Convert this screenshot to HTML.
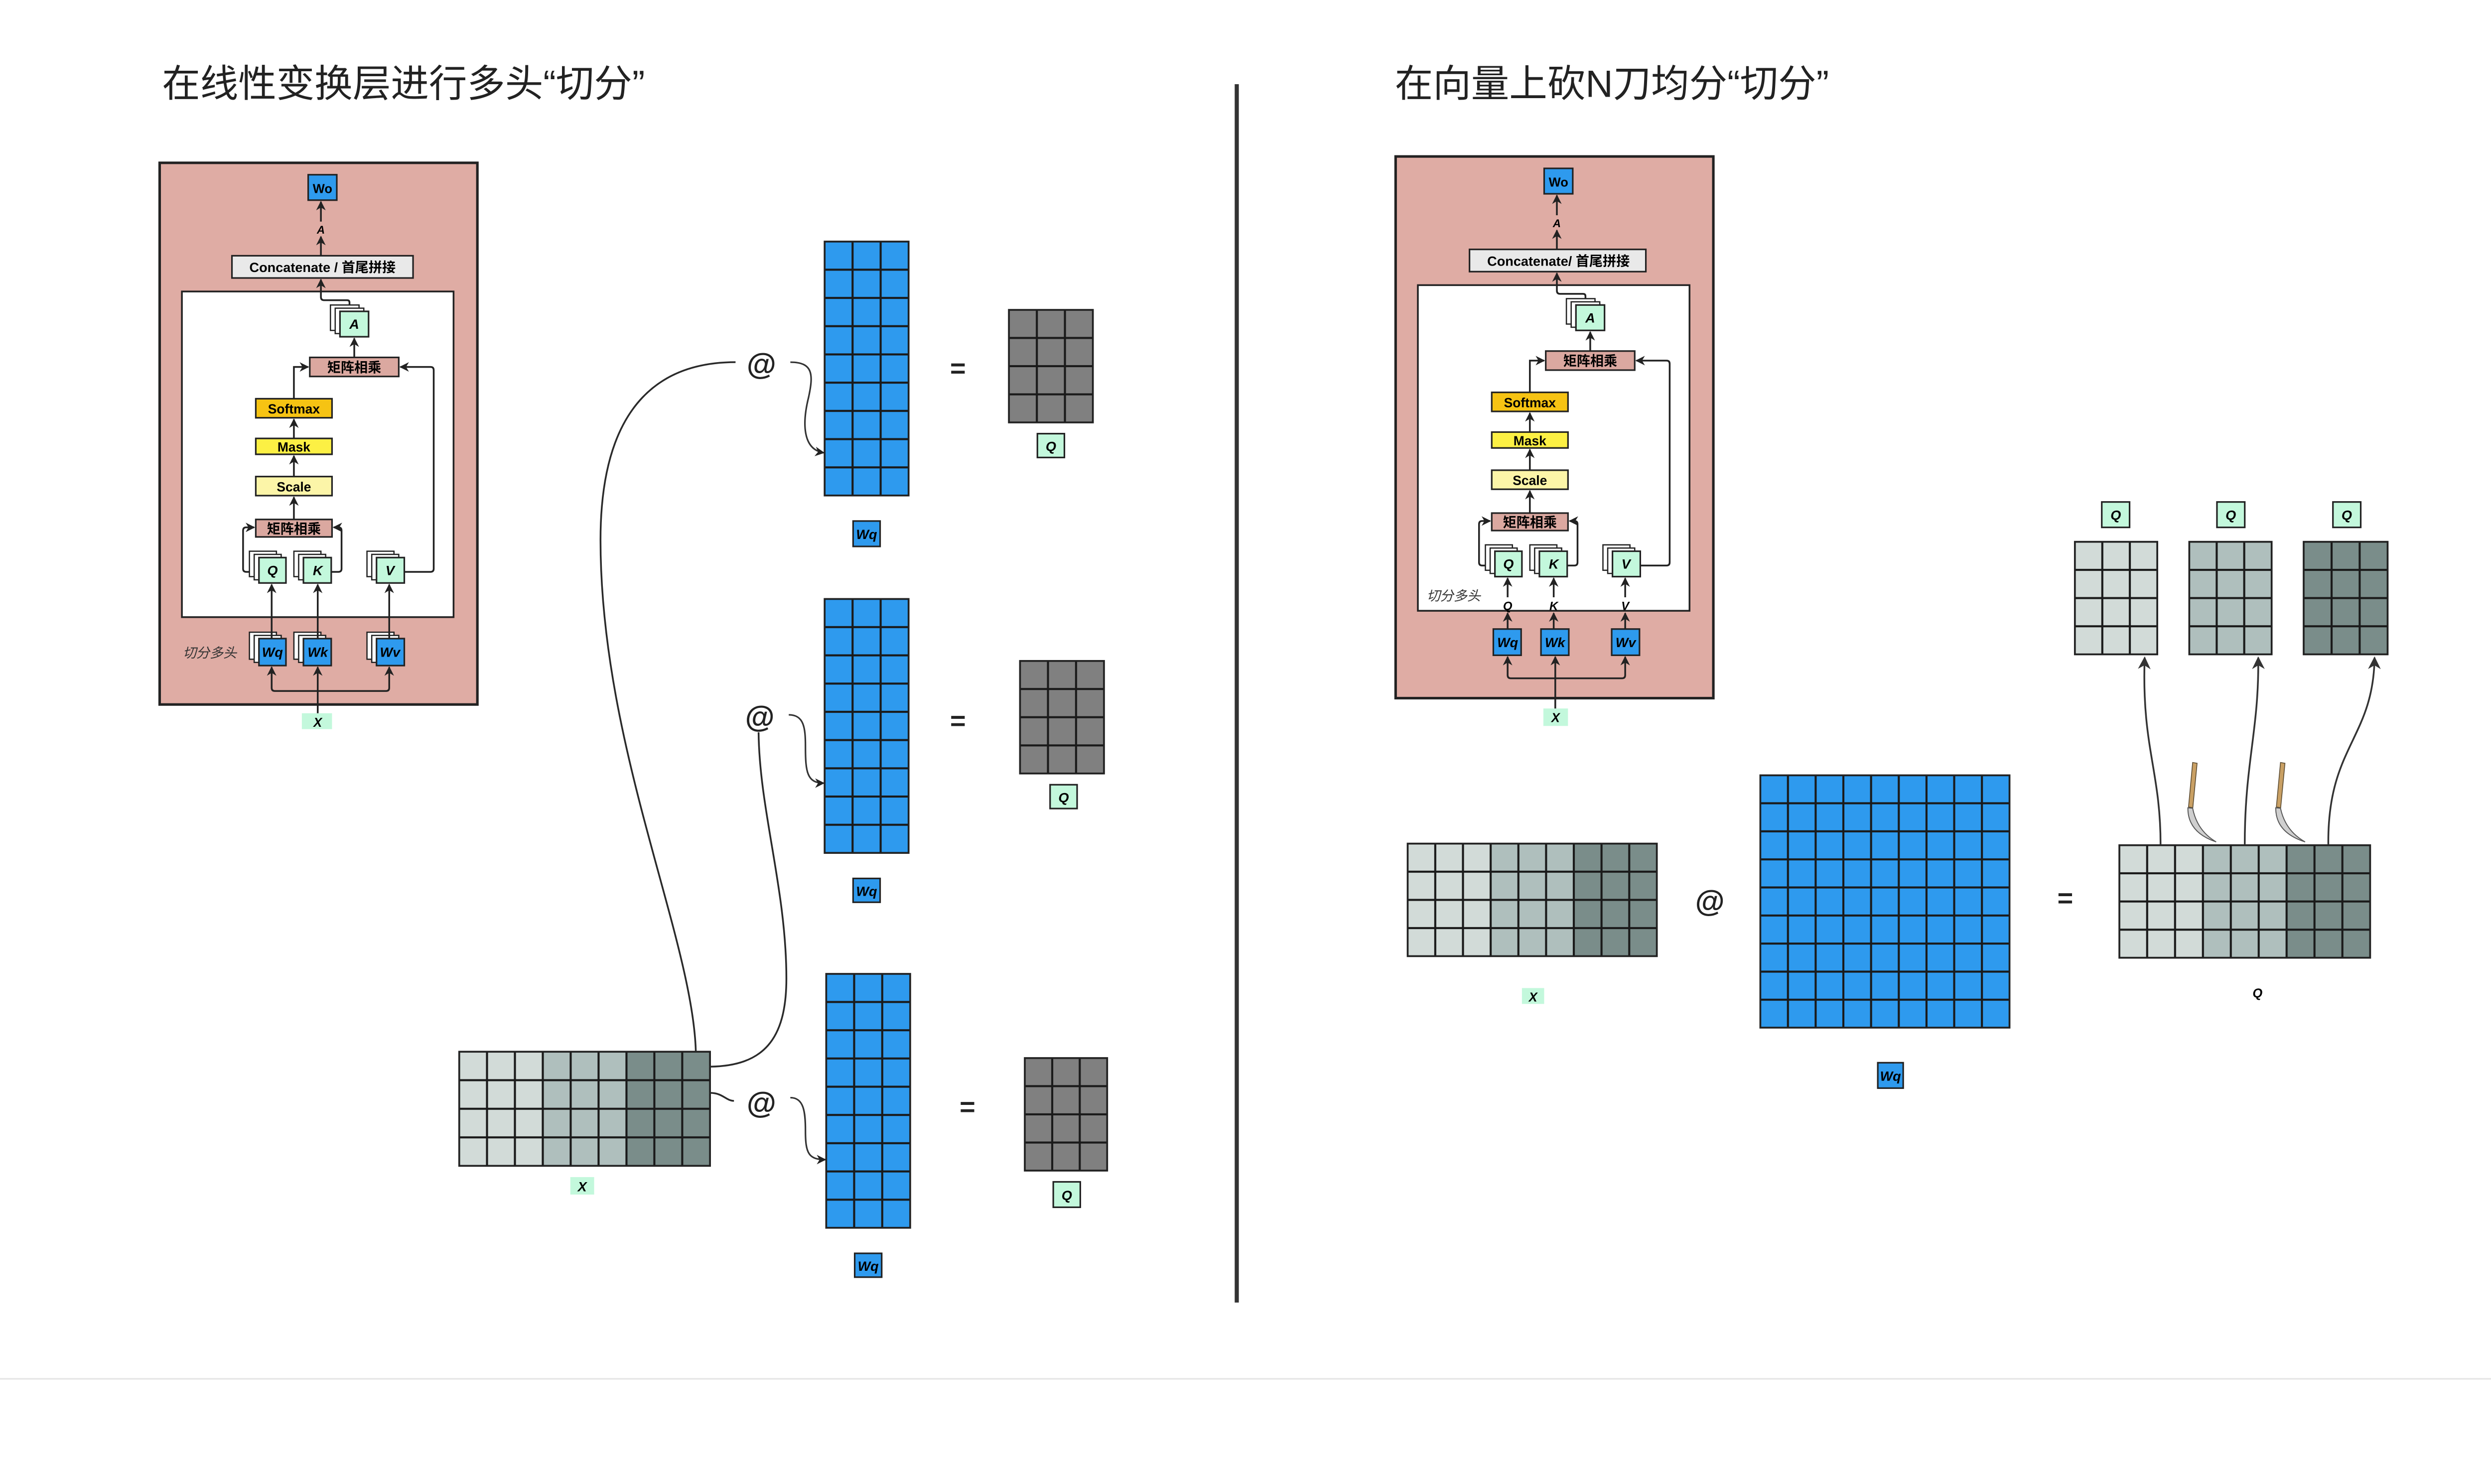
<!DOCTYPE html>
<html><head><meta charset="utf-8">
<style>
html,body{margin:0;padding:0;background:#fff;overflow:hidden;}
svg{display:block;width:100vw;height:55.485vw;}
text{font-family:"Liberation Sans","Noto Sans CJK SC",sans-serif;}
.b{font-weight:bold;}
.bi{font-weight:bold;font-style:italic;}
.ln{fill:none;stroke:#222;stroke-width:1.1;}
.bx{stroke:#222;stroke-width:1;}
.at{font-size:19px;font-style:italic;font-weight:bold;fill:#222;}
.eq{font-size:17px;font-weight:bold;fill:#222;}
</style></head>
<body>
<svg viewBox="0 0 1568 870" preserveAspectRatio="none" xmlns="http://www.w3.org/2000/svg">
<defs>
<marker id="ah" viewBox="0 0 10 10" refX="9" refY="5" markerWidth="6" markerHeight="6" markerUnits="userSpaceOnUse" orient="auto"><path d="M0,0 L10,5 L0,10 L3,5 z" fill="#222"/></marker>
<marker id="ah2" viewBox="0 0 10 10" refX="9" refY="5" markerWidth="8" markerHeight="8" markerUnits="userSpaceOnUse" orient="auto"><path d="M0,0 L10,5 L0,10 L3,5 z" fill="#333"/></marker>
<pattern id="pw1" patternUnits="userSpaceOnUse" x="519" y="152" width="17.667" height="17.778"><rect width="17.667" height="17.778" fill="none" stroke="#1a1a1a" stroke-width="1.3"/></pattern>
<pattern id="pw2" patternUnits="userSpaceOnUse" x="519" y="377" width="17.667" height="17.778"><rect width="17.667" height="17.778" fill="none" stroke="#1a1a1a" stroke-width="1.3"/></pattern>
<pattern id="pw3" patternUnits="userSpaceOnUse" x="520" y="613" width="17.667" height="17.778"><rect width="17.667" height="17.778" fill="none" stroke="#1a1a1a" stroke-width="1.3"/></pattern>
<pattern id="pq1" patternUnits="userSpaceOnUse" x="635" y="195" width="17.667" height="17.75"><rect width="17.667" height="17.75" fill="none" stroke="#1a1a1a" stroke-width="1.3"/></pattern>
<pattern id="pq2" patternUnits="userSpaceOnUse" x="642" y="416" width="17.667" height="17.75"><rect width="17.667" height="17.75" fill="none" stroke="#1a1a1a" stroke-width="1.3"/></pattern>
<pattern id="pq3" patternUnits="userSpaceOnUse" x="645" y="666" width="17.333" height="17.75"><rect width="17.333" height="17.75" fill="none" stroke="#1a1a1a" stroke-width="1.3"/></pattern>
<pattern id="px" patternUnits="userSpaceOnUse" x="289" y="662" width="17.556" height="18"><rect width="17.556" height="18" fill="none" stroke="#1a1a1a" stroke-width="1.3"/></pattern>
<pattern id="prx" patternUnits="userSpaceOnUse" x="886" y="531" width="17.444" height="17.75"><rect width="17.444" height="17.75" fill="none" stroke="#1a1a1a" stroke-width="1.3"/></pattern>
<pattern id="prw" patternUnits="userSpaceOnUse" x="1108" y="488" width="17.444" height="17.667"><rect width="17.444" height="17.667" fill="none" stroke="#1a1a1a" stroke-width="1.3"/></pattern>
<pattern id="prq" patternUnits="userSpaceOnUse" x="1334" y="532" width="17.556" height="17.75"><rect width="17.556" height="17.75" fill="none" stroke="#1a1a1a" stroke-width="1.3"/></pattern>
<pattern id="ps1" patternUnits="userSpaceOnUse" x="1306" y="341" width="17.333" height="17.75"><rect width="17.333" height="17.75" fill="none" stroke="#1a1a1a" stroke-width="1.3"/></pattern>
<pattern id="ps2" patternUnits="userSpaceOnUse" x="1378" y="341" width="17.333" height="17.75"><rect width="17.333" height="17.75" fill="none" stroke="#1a1a1a" stroke-width="1.3"/></pattern>
<pattern id="ps3" patternUnits="userSpaceOnUse" x="1450" y="341" width="17.667" height="17.75"><rect width="17.667" height="17.75" fill="none" stroke="#1a1a1a" stroke-width="1.3"/></pattern>
</defs>

<rect width="1568" height="870" fill="#fff"/>
<line x1="0" y1="868" x2="1568" y2="868" stroke="#e6e6e6" stroke-width="1"/>

<text x="102" y="61" font-size="24" fill="#222">在线性变换层进行多头“切分”</text>
<text x="878" y="61" font-size="24" fill="#222">在向量上砍N刀均分“切分”</text>
<line x1="778.5" y1="53" x2="778.5" y2="820" stroke="#333" stroke-width="2.6"/>

<g id="archL">
<rect x="100.5" y="102.5" width="200" height="341" fill="#dfaca4" stroke="#222" stroke-width="1.6"/>
<rect x="194" y="110" width="18" height="16" fill="#2e9aee" class="bx"/>
<text x="203" y="121.5" font-size="8" class="b" text-anchor="middle">Wo</text>
<path class="ln" d="M202,161 L202,149" marker-end="url(#ah)"/>
<text x="202" y="147" font-size="7" class="bi" text-anchor="middle">A</text>
<path class="ln" d="M202,139.5 L202,127" marker-end="url(#ah)"/>
<rect x="146" y="161" width="114" height="14" fill="#e9e9e9" class="bx"/>
<text x="203" y="171.3" font-size="8.5" class="b" text-anchor="middle">Concatenate / 首尾拼接</text>
<rect x="114.5" y="183.5" width="171" height="205" fill="#fff" stroke="#222" stroke-width="1.1"/>
<rect x="208" y="192" width="18" height="16" fill="#fff" stroke="#222" stroke-width="0.8"/>
<rect x="211" y="194" width="18" height="16" fill="#fff" stroke="#222" stroke-width="0.8"/>
<rect x="214" y="196" width="18" height="16" fill="#c3f8dc" class="bx"/>
<text x="223" y="207" font-size="8.5" class="bi" text-anchor="middle">A</text>
<path class="ln" d="M220,192 L220,190.5 Q220,189 218.5,189 L204,189 Q202,189 202,187 L202,176" marker-end="url(#ah)"/>
<rect x="195" y="225" width="56" height="12" fill="#dba8a0" class="bx"/>
<text x="223" y="234.2" font-size="8.5" class="b" text-anchor="middle">矩阵相乘</text>
<path class="ln" d="M223,225 L223,213" marker-end="url(#ah)"/>
<rect x="161" y="251" width="48" height="12" fill="#f6c313" class="bx"/>
<text x="185" y="260.3" font-size="8.3" class="b" text-anchor="middle">Softmax</text>
<path class="ln" d="M185,251 L185,231 L194,231" marker-end="url(#ah)"/>
<rect x="161" y="276" width="48" height="10" fill="#fcf044" class="bx"/>
<text x="185" y="284.3" font-size="8.3" class="b" text-anchor="middle">Mask</text>
<path class="ln" d="M185,276 L185,264" marker-end="url(#ah)"/>
<rect x="161" y="300" width="48" height="12" fill="#fcf5a8" class="bx"/>
<text x="185" y="309.3" font-size="8.3" class="b" text-anchor="middle">Scale</text>
<path class="ln" d="M185,300 L185,287" marker-end="url(#ah)"/>
<rect x="161" y="327" width="48" height="11" fill="#dba8a0" class="bx"/>
<text x="185" y="335.8" font-size="8.5" class="b" text-anchor="middle">矩阵相乘</text>
<path class="ln" d="M185,327 L185,313" marker-end="url(#ah)"/>
<rect x="157" y="347" width="17" height="16" fill="#fff" stroke="#222" stroke-width="0.8"/>
<rect x="160" y="349" width="17" height="16" fill="#fff" stroke="#222" stroke-width="0.8"/>
<rect x="163" y="351" width="17" height="16" fill="#c3f8dc" class="bx"/>
<text x="171.5" y="362" font-size="8.5" class="bi" text-anchor="middle">Q</text>
<rect x="185" y="347" width="17" height="16" fill="#fff" stroke="#222" stroke-width="0.8"/>
<rect x="188" y="349" width="17" height="16" fill="#fff" stroke="#222" stroke-width="0.8"/>
<rect x="191" y="351" width="17.5" height="16" fill="#c3f8dc" class="bx"/>
<text x="200" y="362" font-size="8.5" class="bi" text-anchor="middle">K</text>
<rect x="231" y="347" width="17" height="16" fill="#fff" stroke="#222" stroke-width="0.8"/>
<rect x="234" y="349" width="17" height="16" fill="#fff" stroke="#222" stroke-width="0.8"/>
<rect x="237" y="351" width="17.5" height="16" fill="#c3f8dc" class="bx"/>
<text x="245.5" y="362" font-size="8.5" class="bi" text-anchor="middle">V</text>
<path class="ln" d="M157,360 L155,360 Q153,360 153,358 L153,334 Q153,332 155,332 L160,332" marker-end="url(#ah)"/>
<path class="ln" d="M208.5,360 L213,360 Q215,360 215,358 L215,334 Q215,332 213,332 L210,332" marker-end="url(#ah)"/>
<path class="ln" d="M254.5,360 L271,360 Q273,360 273,358 L273,233 Q273,231 271,231 L252,231" marker-end="url(#ah)"/>
</g>
<text x="115" y="414" font-size="8.5" font-style="italic" fill="#333">切分多头</text>
<rect x="157" y="398" width="17" height="17" fill="#fff" stroke="#222" stroke-width="0.8"/>
<rect x="160" y="400" width="17" height="17" fill="#fff" stroke="#222" stroke-width="0.8"/>
<rect x="163" y="402" width="17" height="17" fill="#2e9aee" class="bx"/>
<text x="171.5" y="413.5" font-size="8.5" class="bi" text-anchor="middle">Wq</text>
<rect x="185" y="398" width="17" height="17" fill="#fff" stroke="#222" stroke-width="0.8"/>
<rect x="188" y="400" width="17" height="17" fill="#fff" stroke="#222" stroke-width="0.8"/>
<rect x="191" y="402" width="17.5" height="17" fill="#2e9aee" class="bx"/>
<text x="200" y="413.5" font-size="8.5" class="bi" text-anchor="middle">Wk</text>
<rect x="231" y="398" width="17" height="17" fill="#fff" stroke="#222" stroke-width="0.8"/>
<rect x="234" y="400" width="17" height="17" fill="#fff" stroke="#222" stroke-width="0.8"/>
<rect x="237" y="402" width="17.5" height="17" fill="#2e9aee" class="bx"/>
<text x="245.5" y="413.5" font-size="8.5" class="bi" text-anchor="middle">Wv</text>
<path class="ln" d="M171,402 L171,368" marker-end="url(#ah)"/>
<path class="ln" d="M200,402 L200,368" marker-end="url(#ah)"/>
<path class="ln" d="M245,402 L245,368" marker-end="url(#ah)"/>
<rect x="190" y="449" width="19" height="10" fill="#c3f8dc"/>
<text x="200" y="457.5" font-size="8" class="bi" text-anchor="middle">X</text>
<path class="ln" d="M200,449 L200,420" marker-end="url(#ah)"/>
<path class="ln" d="M200,435 L173,435 Q171,435 171,433 L171,420" marker-end="url(#ah)"/>
<path class="ln" d="M200,435 L243,435 Q245,435 245,433 L245,420" marker-end="url(#ah)"/>

<g transform="translate(778,-4)">
<rect x="100.5" y="102.5" width="200" height="341" fill="#dfaca4" stroke="#222" stroke-width="1.6"/>
<rect x="194" y="110" width="18" height="16" fill="#2e9aee" class="bx"/>
<text x="203" y="121.5" font-size="8" class="b" text-anchor="middle">Wo</text>
<path class="ln" d="M202,161 L202,149" marker-end="url(#ah)"/>
<text x="202" y="147" font-size="7" class="bi" text-anchor="middle">A</text>
<path class="ln" d="M202,139.5 L202,127" marker-end="url(#ah)"/>
<rect x="147" y="161" width="111" height="14" fill="#e9e9e9" class="bx"/>
<text x="203" y="171.3" font-size="8.5" class="b" text-anchor="middle">Concatenate/ 首尾拼接</text>
<rect x="114.5" y="183.5" width="171" height="205" fill="#fff" stroke="#222" stroke-width="1.1"/>
<rect x="208" y="192" width="18" height="16" fill="#fff" stroke="#222" stroke-width="0.8"/>
<rect x="211" y="194" width="18" height="16" fill="#fff" stroke="#222" stroke-width="0.8"/>
<rect x="214" y="196" width="18" height="16" fill="#c3f8dc" class="bx"/>
<text x="223" y="207" font-size="8.5" class="bi" text-anchor="middle">A</text>
<path class="ln" d="M220,192 L220,190.5 Q220,189 218.5,189 L204,189 Q202,189 202,187 L202,176" marker-end="url(#ah)"/>
<rect x="195" y="225" width="56" height="12" fill="#dba8a0" class="bx"/>
<text x="223" y="234.2" font-size="8.5" class="b" text-anchor="middle">矩阵相乘</text>
<path class="ln" d="M223,225 L223,213" marker-end="url(#ah)"/>
<rect x="161" y="251" width="48" height="12" fill="#f6c313" class="bx"/>
<text x="185" y="260.3" font-size="8.3" class="b" text-anchor="middle">Softmax</text>
<path class="ln" d="M185,251 L185,231 L194,231" marker-end="url(#ah)"/>
<rect x="161" y="276" width="48" height="10" fill="#fcf044" class="bx"/>
<text x="185" y="284.3" font-size="8.3" class="b" text-anchor="middle">Mask</text>
<path class="ln" d="M185,276 L185,264" marker-end="url(#ah)"/>
<rect x="161" y="300" width="48" height="12" fill="#fcf5a8" class="bx"/>
<text x="185" y="309.3" font-size="8.3" class="b" text-anchor="middle">Scale</text>
<path class="ln" d="M185,300 L185,287" marker-end="url(#ah)"/>
<rect x="161" y="327" width="48" height="11" fill="#dba8a0" class="bx"/>
<text x="185" y="335.8" font-size="8.5" class="b" text-anchor="middle">矩阵相乘</text>
<path class="ln" d="M185,327 L185,313" marker-end="url(#ah)"/>
<rect x="157" y="347" width="17" height="16" fill="#fff" stroke="#222" stroke-width="0.8"/>
<rect x="160" y="349" width="17" height="16" fill="#fff" stroke="#222" stroke-width="0.8"/>
<rect x="163" y="351" width="17" height="16" fill="#c3f8dc" class="bx"/>
<text x="171.5" y="362" font-size="8.5" class="bi" text-anchor="middle">Q</text>
<rect x="185" y="347" width="17" height="16" fill="#fff" stroke="#222" stroke-width="0.8"/>
<rect x="188" y="349" width="17" height="16" fill="#fff" stroke="#222" stroke-width="0.8"/>
<rect x="191" y="351" width="17.5" height="16" fill="#c3f8dc" class="bx"/>
<text x="200" y="362" font-size="8.5" class="bi" text-anchor="middle">K</text>
<rect x="231" y="347" width="17" height="16" fill="#fff" stroke="#222" stroke-width="0.8"/>
<rect x="234" y="349" width="17" height="16" fill="#fff" stroke="#222" stroke-width="0.8"/>
<rect x="237" y="351" width="17.5" height="16" fill="#c3f8dc" class="bx"/>
<text x="245.5" y="362" font-size="8.5" class="bi" text-anchor="middle">V</text>
<path class="ln" d="M157,360 L155,360 Q153,360 153,358 L153,334 Q153,332 155,332 L160,332" marker-end="url(#ah)"/>
<path class="ln" d="M208.5,360 L213,360 Q215,360 215,358 L215,334 Q215,332 213,332 L210,332" marker-end="url(#ah)"/>
<path class="ln" d="M254.5,360 L271,360 Q273,360 273,358 L273,233 Q273,231 271,231 L252,231" marker-end="url(#ah)"/>
</g>
<text x="898" y="378" font-size="8.5" font-style="italic" fill="#333">切分多头</text>
<path class="ln" d="M949,376 L949,364" marker-end="url(#ah)"/>
<text x="949" y="384" font-size="7.5" class="bi" text-anchor="middle">Q</text>
<path class="ln" d="M949,396 L949,386" marker-end="url(#ah)"/>
<path class="ln" d="M978,376 L978,364" marker-end="url(#ah)"/>
<text x="978" y="384" font-size="7.5" class="bi" text-anchor="middle">K</text>
<path class="ln" d="M978,396 L978,386" marker-end="url(#ah)"/>
<path class="ln" d="M1023,376 L1023,364" marker-end="url(#ah)"/>
<text x="1023" y="384" font-size="7.5" class="bi" text-anchor="middle">V</text>
<path class="ln" d="M1023,396 L1023,386" marker-end="url(#ah)"/>
<rect x="940" y="396" width="17.5" height="16.5" fill="#2e9aee" class="bx"/>
<text x="949" y="407.3" font-size="8.5" class="bi" text-anchor="middle">Wq</text>
<rect x="970" y="396" width="17.5" height="16.5" fill="#2e9aee" class="bx"/>
<text x="978.8" y="407.3" font-size="8.5" class="bi" text-anchor="middle">Wk</text>
<rect x="1014.5" y="396" width="17.5" height="16.5" fill="#2e9aee" class="bx"/>
<text x="1023.3" y="407.3" font-size="8.5" class="bi" text-anchor="middle">Wv</text>
<rect x="971.5" y="446" width="15.5" height="11" fill="#c3f8dc"/>
<text x="979.2" y="454.5" font-size="8" class="bi" text-anchor="middle">X</text>
<path class="ln" d="M979,446 L979,413.5" marker-end="url(#ah)"/>
<path class="ln" d="M979,427 L951,427 Q949,427 949,425 L949,413.5" marker-end="url(#ah)"/>
<path class="ln" d="M979,427 L1021,427 Q1023,427 1023,425 L1023,413.5" marker-end="url(#ah)"/>

<rect x="289" y="662" width="52.7" height="72" fill="#d2dbd8"/>
<rect x="341.7" y="662" width="52.7" height="72" fill="#afbfbd"/>
<rect x="394.4" y="662" width="52.6" height="72" fill="#7a8d8a"/>
<rect x="289" y="662" width="158" height="72" fill="url(#px)" stroke="#222" stroke-width="1"/>
<rect x="359" y="741" width="15" height="11" fill="#c3f8dc"/>
<text x="366.5" y="750" font-size="8.5" class="bi" text-anchor="middle">X</text>

<rect x="519" y="152" width="53" height="160" fill="#2e9aee"/>
<rect x="519" y="152" width="53" height="160" fill="url(#pw1)" stroke="#222" stroke-width="1"/>
<rect x="537" y="328" width="17" height="16" fill="#2e9aee" class="bx"/>
<text x="545.5" y="339.3" font-size="8.5" class="bi" text-anchor="middle">Wq</text>
<text x="479" y="236" class="at" text-anchor="middle">@</text>
<text x="603" y="237.5" class="eq" text-anchor="middle">=</text>
<rect x="635" y="195" width="53" height="71" fill="#808080"/>
<rect x="635" y="195" width="53" height="71" fill="url(#pq1)" stroke="#222" stroke-width="1"/>
<rect x="653" y="273" width="17" height="15" fill="#c3f8dc" class="bx"/>
<text x="661.5" y="284" font-size="8.5" class="bi" text-anchor="middle">Q</text>

<rect x="519" y="377" width="53" height="160" fill="#2e9aee"/>
<rect x="519" y="377" width="53" height="160" fill="url(#pw2)" stroke="#222" stroke-width="1"/>
<rect x="537" y="553" width="17" height="15" fill="#2e9aee" class="bx"/>
<text x="545.5" y="564" font-size="8.5" class="bi" text-anchor="middle">Wq</text>
<text x="478" y="458" class="at" text-anchor="middle">@</text>
<text x="603" y="459.5" class="eq" text-anchor="middle">=</text>
<rect x="642" y="416" width="53" height="71" fill="#808080"/>
<rect x="642" y="416" width="53" height="71" fill="url(#pq2)" stroke="#222" stroke-width="1"/>
<rect x="661" y="494" width="17" height="15" fill="#c3f8dc" class="bx"/>
<text x="669.5" y="505" font-size="8.5" class="bi" text-anchor="middle">Q</text>

<rect x="520" y="613" width="53" height="160" fill="#2e9aee"/>
<rect x="520" y="613" width="53" height="160" fill="url(#pw3)" stroke="#222" stroke-width="1"/>
<rect x="538" y="789" width="17" height="15" fill="#2e9aee" class="bx"/>
<text x="546.5" y="800" font-size="8.5" class="bi" text-anchor="middle">Wq</text>
<text x="479" y="701" class="at" text-anchor="middle">@</text>
<text x="609" y="702.5" class="eq" text-anchor="middle">=</text>
<rect x="645" y="666" width="52" height="71" fill="#808080"/>
<rect x="645" y="666" width="52" height="71" fill="url(#pq3)" stroke="#222" stroke-width="1"/>
<rect x="663" y="744" width="17" height="16" fill="#c3f8dc" class="bx"/>
<text x="671.5" y="755.5" font-size="8.5" class="bi" text-anchor="middle">Q</text>

<path fill="none" stroke="#2a2a2a" stroke-width="1.1" d="M438,662 C436,590 378,470 378,340 C378,250 420,228 463,228"/>
<path fill="none" stroke="#2a2a2a" stroke-width="1.1" d="M447,671.5 C480,671 495,655 495,616 C495,560 478,510 477.5,461"/>
<path fill="none" stroke="#2a2a2a" stroke-width="1.1" d="M447,688 C455,688 457,693 462,693"/>
<path fill="none" stroke="#333" stroke-width="1" d="M497.5,228 C512,228 512,236 509,250 C505,266 505,283 518.5,285" marker-end="url(#ah)"/>
<path fill="none" stroke="#333" stroke-width="1" d="M496.5,450 C506,450 507,458 507,470 C507,486 508,493 518.5,493" marker-end="url(#ah)"/>
<path fill="none" stroke="#333" stroke-width="1" d="M497.5,691 C506,691 507,700 507,712 C507,726 509,730 519.5,730" marker-end="url(#ah)"/>

<rect x="886" y="531" width="52.3" height="71" fill="#d2dbd8"/>
<rect x="938.3" y="531" width="52.3" height="71" fill="#afbfbd"/>
<rect x="990.6" y="531" width="52.4" height="71" fill="#7a8d8a"/>
<rect x="886" y="531" width="157" height="71" fill="url(#prx)" stroke="#222" stroke-width="1"/>
<rect x="958" y="622" width="14" height="10" fill="#c3f8dc"/>
<text x="965" y="630.5" font-size="8" class="bi" text-anchor="middle">X</text>

<text x="1076" y="574" class="at" text-anchor="middle">@</text>
<rect x="1108" y="488" width="157" height="159" fill="#2e9aee"/>
<rect x="1108" y="488" width="157" height="159" fill="url(#prw)" stroke="#222" stroke-width="1"/>
<rect x="1182" y="669" width="16" height="16" fill="#2e9aee" class="bx"/>
<text x="1190" y="680.3" font-size="8.5" class="bi" text-anchor="middle">Wq</text>
<text x="1300" y="571" class="eq" text-anchor="middle">=</text>

<rect x="1334" y="532" width="52.7" height="71" fill="#d2dbd8"/>
<rect x="1386.7" y="532" width="52.6" height="71" fill="#afbfbd"/>
<rect x="1439.3" y="532" width="52.7" height="71" fill="#7a8d8a"/>
<rect x="1334" y="532" width="158" height="71" fill="url(#prq)" stroke="#222" stroke-width="1"/>
<text x="1421" y="628" font-size="8" class="bi" text-anchor="middle">Q</text>

<rect x="1306" y="341" width="52" height="71" fill="#d2dbd8"/>
<rect x="1306" y="341" width="52" height="71" fill="url(#ps1)" stroke="#222" stroke-width="1"/>
<rect x="1378" y="341" width="52" height="71" fill="#afbfbd"/>
<rect x="1378" y="341" width="52" height="71" fill="url(#ps2)" stroke="#222" stroke-width="1"/>
<rect x="1450" y="341" width="53" height="71" fill="#7a8d8a"/>
<rect x="1450" y="341" width="53" height="71" fill="url(#ps3)" stroke="#222" stroke-width="1"/>
<rect x="1323" y="316" width="17.5" height="16" fill="#c3f8dc" class="bx"/>
<text x="1331.8" y="327.3" font-size="8.5" class="bi" text-anchor="middle">Q</text>
<rect x="1395.5" y="316" width="17.5" height="16" fill="#c3f8dc" class="bx"/>
<text x="1404.2" y="327.3" font-size="8.5" class="bi" text-anchor="middle">Q</text>
<rect x="1468.5" y="316" width="17.5" height="16" fill="#c3f8dc" class="bx"/>
<text x="1477.2" y="327.3" font-size="8.5" class="bi" text-anchor="middle">Q</text>

<path fill="none" stroke="#333" stroke-width="1.1" d="M1360,531.5 C1360,485 1348,470 1350,414" marker-end="url(#ah2)"/>
<path fill="none" stroke="#333" stroke-width="1.1" d="M1413,531.5 C1413,480 1422,460 1421.5,414" marker-end="url(#ah2)"/>
<path fill="none" stroke="#333" stroke-width="1.1" d="M1465.6,531.5 C1465,470 1494,465 1494.7,414" marker-end="url(#ah2)"/>

<path d="M1380.2,480 L1383,480.5 L1380.3,508.5 L1377.6,508 z" fill="#c9a064" stroke="#5a4a30" stroke-width="0.5"/>
<path d="M1377.2,508.5 Q1377,524 1395,530 Q1383,523 1380.2,508.8 z" fill="#cfcfcf" stroke="#555" stroke-width="0.6"/>
<path d="M1435.5,480 L1438.3,480.5 L1435.6,508.5 L1432.9,508 z" fill="#c9a064" stroke="#5a4a30" stroke-width="0.5"/>
<path d="M1432.5,508.5 Q1432.3,524 1451,530 Q1438.5,523 1435.5,508.8 z" fill="#cfcfcf" stroke="#555" stroke-width="0.6"/>
</svg>
</body></html>
